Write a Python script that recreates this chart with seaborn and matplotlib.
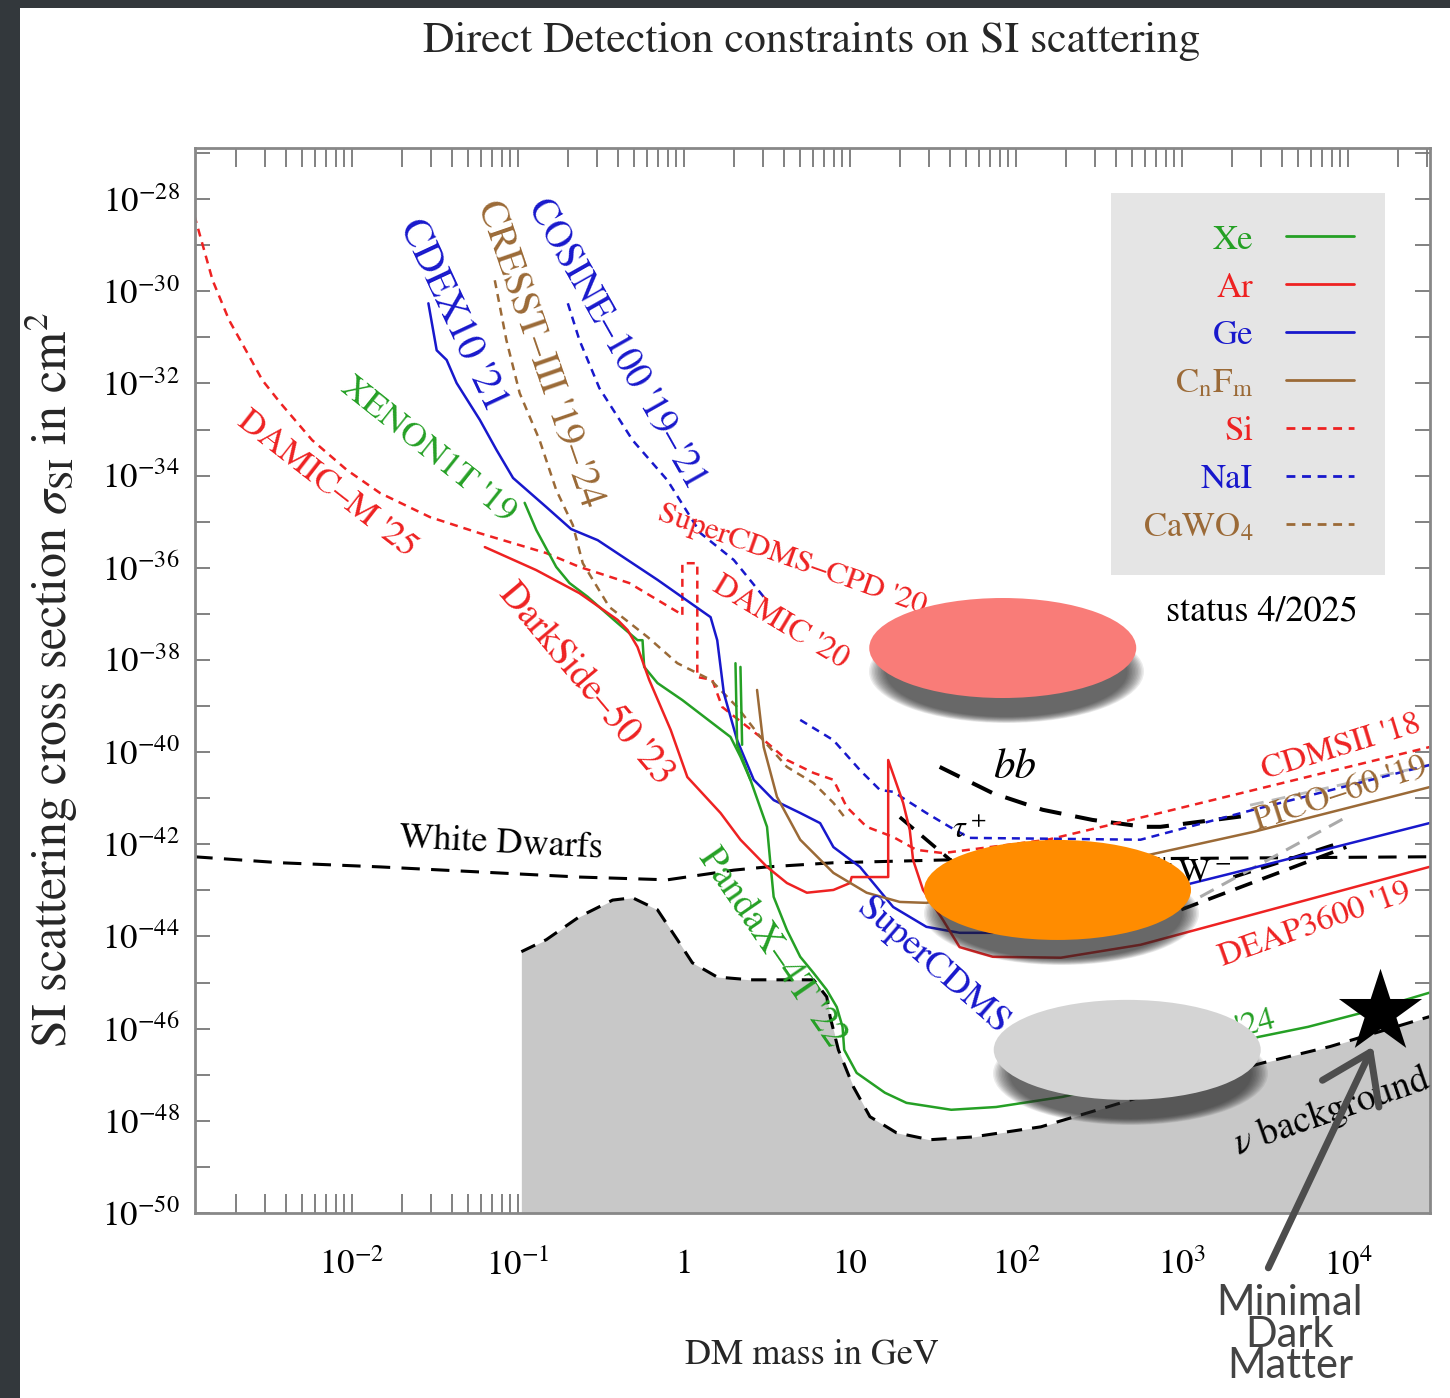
import numpy as np
import seaborn as sns
import matplotlib.pyplot as plt
from matplotlib.path import Path
from matplotlib.lines import Line2D
from matplotlib.patches import Rectangle
from matplotlib.transforms import Affine2D, ScaledTranslation
from matplotlib.ticker import FixedLocator, LogLocator, NullFormatter

# values: log10(m / GeV) and log10(sigma_SI / cm^2)
damicm_m = [-2.95, -2.84, -2.74, -2.63, -2.54, -2.43, -2.24, -2.03, -1.83, -1.53, -1.23, -0.83, -0.63, -0.33, -0.01]
damicm_s = [-28.35, -29.76, -30.63, -31.34, -31.93, -32.43, -33.23, -33.88, -34.38, -34.90, -35.25, -35.68, -35.98, -36.33, -37.02]

# SuperCDMS-CPD '20 box, DAMIC '20 and CDMSII '18 (Si)
si_m = [-0.01, -0.01, 0.08, 0.08, 0.17, 0.23, 0.46, 0.62, 0.78, 0.90, 0.98, 1.10, 1.26, 1.40, 1.56, 2.19, 2.81, 4.49]
si_s = [-37.02, -35.90, -35.90, -38.37, -38.43, -39.02, -39.67, -40.17, -40.45, -40.60, -41.19, -41.62, -41.84, -42.12, -42.19, -41.90, -41.37, -39.89]

# CDEX10 '21 + SuperCDMS (Ge)
ge_m = [-1.54, -1.49, -1.43, -1.37, -1.23, -1.13, -1.03, -0.83, -0.68, -0.52, -0.16, 0.16, 0.20, 0.24, 0.32, 0.42, 0.54,
        0.70, 0.82, 0.90, 1.06, 1.26, 1.46, 1.66, 1.86, 3.31, 4.49]
ge_s = [-30.26, -31.28, -31.49, -31.99, -32.79, -33.44, -34.05, -34.68, -35.16, -35.40, -36.26, -37.07, -37.57, -38.72, -39.74,
        -40.60, -41.04, -41.32, -41.54, -42.06, -42.49, -43.36, -43.79, -43.92, -43.92, -42.62, -41.54]

cresst_m = [-1.14, -1.07, -0.99, -0.87, -0.77, -0.67, -0.61, -0.45, -0.22, -0.04, 0.16, 0.32, 0.46, 0.62, 0.78, 0.90, 0.98]
cresst_s = [-29.76, -31.06, -32.21, -33.23, -34.31, -35.07, -35.90, -36.85, -37.50, -38.07, -38.43, -39.02, -39.67, -40.32, -40.67, -41.10, -41.47]

cosine_m = [-0.70, -0.63, -0.51, -0.31, -0.10, 0.10, 0.30, 0.48]
cosine_s = [-30.26, -31.06, -32.10, -33.23, -34.10, -35.25, -35.83, -36.63]

nai_m = [0.70, 0.90, 1.06, 1.18, 1.26, 1.46, 1.60, 1.72, 2.75, 3.43, 4.49]
nai_s = [-39.30, -39.74, -40.39, -40.82, -40.86, -41.32, -41.62, -41.86, -41.90, -41.25, -40.28]

xenon1t_m = [-0.96, -0.89, -0.77, -0.69, -0.58, -0.40, -0.28, -0.25, -0.24, -0.16, -0.01, 0.20, 0.28, 0.34, 0.40]
xenon1t_s = [-34.59, -35.18, -35.98, -36.33, -36.63, -37.20, -37.57, -37.57, -38.15, -38.50, -38.87, -39.45, -39.67, -40.10, -40.60]

# PandaX-4T '22 + LZ '24 (Xe)
xe_m = [0.31, 0.32, 0.40, 0.50, 0.52, 0.54, 0.62, 0.70, 0.78, 0.86, 0.92, 0.955, 0.965, 1.04, 1.21, 1.34, 1.61, 1.88,
        2.28, 2.55, 3.46, 3.76, 4.08, 4.49]
xe_s = [-38.07, -39.84, -40.60, -41.62, -42.40, -43.14, -43.86, -44.44, -44.79, -45.16, -45.53, -45.96, -46.46, -46.96,
        -47.39, -47.61, -47.76, -47.70, -47.48, -47.26, -46.18, -45.96, -45.66, -45.22]
xe_spike_m = [0.34, 0.35]
xe_spike_s = [-38.15, -39.84]

# DarkSide-50 '23 + DEAP3600 '19 (Ar)
ar_m = [-1.20, -0.89, -0.63, -0.40, -0.34, -0.28, -0.21, -0.08, 0.02, 0.22, 0.34, 0.50, 0.62, 0.74, 0.90, 1.00, 1.01,
        1.23, 1.23, 1.32, 1.36, 1.38, 1.44, 1.56, 1.66, 1.86, 2.27, 2.75, 4.49]
ar_s = [-35.55, -36.05, -36.55, -37.13, -37.35, -37.72, -38.43, -39.52, -40.54, -41.32, -41.90, -42.49, -42.84, -43.05,
        -42.99, -42.84, -42.71, -42.71, -40.17, -41.10, -41.69, -42.34, -42.99, -43.64, -44.23, -44.44, -44.46, -44.18, -42.49]

# PICO-60 '19 (CnFm)
pico_m = [0.44, 0.48, 0.56, 0.70, 0.90, 1.10, 1.30, 1.46, 2.85, 3.43, 4.49]
pico_s = [-38.65, -39.89, -40.97, -41.90, -42.62, -43.05, -43.25, -43.27, -42.19, -41.73, -40.76]

wd_m = [-2.95, -2.43, -1.83, -1.23, -0.63, -0.10, 0.30, 0.50, 0.90, 1.56, 4.49]
wd_s = [-42.27, -42.40, -42.49, -42.60, -42.71, -42.77, -42.56, -42.49, -42.40, -42.34, -42.27]

nu_m = [-0.98, -0.83, -0.63, -0.43, -0.31, -0.16, -0.04, 0.05, 0.20, 0.40, 0.62, 0.78, 0.86, 0.88, 0.93, 1.02, 1.12,
        1.28, 1.48, 1.74, 2.15, 2.55, 2.95, 3.49, 3.89, 4.49]
nu_s = [-44.33, -44.07, -43.57, -43.21, -43.16, -43.42, -44.07, -44.57, -44.88, -44.94, -44.94, -44.94, -45.31, -45.74,
        -46.46, -47.26, -47.91, -48.26, -48.41, -48.35, -48.13, -47.70, -47.26, -46.74, -46.39, -45.74]

bb_m = [1.54, 1.86, 2.16, 2.46, 2.77, 2.87, 3.43]
bb_s = [-40.32, -40.89, -41.25, -41.47, -41.62, -41.62, -41.36]
tau_m = [1.30, 1.66]
tau_s = [-41.41, -42.51]
ww1_m = [2.67, 3.99]
ww1_s = [-43.86, -42.06]
ww2_m = [3.31, 3.95]
ww2_s = [-42.71, -41.97]
zz1_m = [3.11, 3.99]
zz1_s = [-43.14, -41.41]
zz2_m = [3.41, 4.49]
zz2_s = [-41.15, -40.28]

blob_m = [1.92, 2.25, 2.67]
blob_s = [-37.74, -42.99, -46.46]
blob_colors = ['#f97c78', '#ff8c00', '#d4d4d4']
mdm_m, mdm_s = 4.19, -45.64

leg_labels = ['Xe', 'Ar', 'Ge', r'C$_{\rm n}$F$_{\rm m}$', 'Si', 'NaI', r'CaWO$_4$']
x_ticklabels = [r'$10^{-2}$', r'$10^{-1}$', '1', '10', r'$10^{2}$', r'$10^{3}$', r'$10^{4}$']

GREEN, RED, BLUE, BROWN = '#25a025', '#ee2222', '#1818cc', '#9b6a37'

sns.set_style('white')
plt.rcParams['font.family'] = ['STIXGeneral', 'DejaVu Sans']
plt.rcParams['mathtext.fontset'] = 'stix'

fig = plt.figure(figsize=(14.5, 13.98), dpi=100, facecolor='#33383c')
fig.add_artist(Rectangle((20 / 1450, 0), 1, 1 - 8 / 1398, transform=fig.transFigure,
                         facecolor='white', edgecolor='none', zorder=-5))
ax = fig.add_axes([195 / 1450, 185 / 1398, 1235 / 1450, 1065 / 1398])
ax.set_xscale('log')
ax.set_yscale('log')

DASH = (0, (3.2, 2.4))


def curve(lm, ls_, color, style='-', lw=1.8, z=2):
    sns.lineplot(x=10 ** np.array(lm), y=10 ** np.array(ls_), sort=False, estimator=None,
                 color=color, linestyle=style, linewidth=lw, ax=ax, zorder=z)


# neutrino floor
ax.fill_between(10 ** np.array(nu_m), 10 ** np.array(nu_s), 1e-55, color='#c8c8c8', lw=0, zorder=1)
curve(nu_m, nu_s, 'black', (0, (5, 3.3)), lw=2.2)
curve(wd_m, wd_s, 'black', (0, (6, 3.7)), lw=2.2)
curve(bb_m, bb_s, 'black', (0, (5.5, 3.5)), lw=2.9)
curve(tau_m, tau_s, 'black', (0, (5, 3)), lw=2.6)
curve(ww1_m, ww1_s, 'black', (0, (5, 3)), lw=2.6)
curve(ww2_m, ww2_s, 'black', (0, (5, 3)), lw=2.6)
curve(zz1_m, zz1_s, '#aaaaaa', (0, (5, 3)), lw=2.2)
curve(zz2_m, zz2_s, '#bbbbbb', (0, (5, 3)), lw=2.0)

curve(damicm_m, damicm_s, RED, DASH)
curve(si_m, si_s, RED, DASH)
curve(cresst_m, cresst_s, BROWN, DASH)
curve(cosine_m, cosine_s, BLUE, DASH)
curve(nai_m, nai_s, BLUE, DASH)
curve(ge_m, ge_s, BLUE)
curve(xenon1t_m, xenon1t_s, GREEN)
curve(xe_m, xe_s, GREEN)
curve(xe_spike_m, xe_spike_s, GREEN)
curve(ar_m, ar_s, RED)
curve(pico_m, pico_s, BROWN)

lab = dict(ha='center', va='center', rotation_mode='anchor', zorder=3)
ax.text(10 ** -1.40, 10 ** -30.52, "CDEX10 '21", color=BLUE, rotation=-65, fontsize=29, **lab)
ax.text(10 ** -0.87, 10 ** -31.36, "CRESST–III '19–'24", color=BROWN, rotation=-71, fontsize=28, **lab)
ax.text(10 ** -0.41, 10 ** -31.15, "COSINE–100 '19–'21", color=BLUE, rotation=-60.5, fontsize=27, **lab)
ax.text(10 ** -1.54, 10 ** -33.44, "XENON1T '19", color=GREEN, rotation=-38.5, fontsize=25.5, **lab)
ax.text(10 ** -2.15, 10 ** -34.20, "DAMIC–M '25", color=RED, rotation=-38, fontsize=25.5, **lab)
ax.text(10 ** 0.65, 10 ** -35.83, "SuperCDMS–CPD '20", color=RED, rotation=-19.5, fontsize=22.5, **lab)
ax.text(10 ** 0.58, 10 ** -37.20, "DAMIC '20", color=RED, rotation=-31, fontsize=23, **lab)
ax.text(10 ** -0.59, 10 ** -38.52, "DarkSide–50 '23", color=RED, rotation=-50, fontsize=27, **lab)
ax.text(10 ** 0.53, 10 ** -44.25, "PandaX–4T '22", color=GREEN, rotation=-55.5, fontsize=27, **lab)
ax.text(10 ** 1.50, 10 ** -44.64, "SuperCDMS", color=BLUE, rotation=-41, fontsize=26.5, **lab)
ax.text(10 ** -1.10, 10 ** -41.97, "White Dwarfs", color='black', rotation=-3, fontsize=26, **lab)
ax.text(10 ** 1.99, 10 ** -40.34, "bb", color='black', fontstyle='italic', fontsize=31, **lab)
ax.text(10 ** 1.72, 10 ** -41.69, r"$\tau^+$", color='black', fontsize=23, **lab)
ax.text(10 ** 3.30, 10 ** -42.66, r"W$^+$W$^-$", color='black', fontsize=25, ha='right', va='center', zorder=3)
ax.text(10 ** 3.96, 10 ** -39.91, "CDMSII '18", color=RED, rotation=17, fontsize=24, **lab)
ax.text(10 ** 3.96, 10 ** -40.93, "PICO–60 '19", color=BROWN, rotation=18, fontsize=25, **lab)
ax.text(10 ** 3.80, 10 ** -43.75, "DEAP3600 '19", color=RED, rotation=19.5, fontsize=24, **lab)
ax.text(10 ** 3.56, 10 ** -45.81, "LZ '24", color=GREEN, rotation=15, fontsize=24, ha='right', va='center',
        rotation_mode='anchor', zorder=3)
ax.text(10 ** 3.90, 10 ** -47.81, r"$\nu$ background", color='black', rotation=19, fontsize=27, **lab)
ax.text(10 ** 3.48, 10 ** -36.96, "status 4/2025", color='black', fontsize=26, **lab)

# ellipses with a soft drop shadow below them
ell = Path.unit_circle().transformed(Affine2D().scale(1.0, 100 / 267))
bm, bs = 10 ** np.array(blob_m), 10 ** np.array(blob_s)
shadow = ax.transData + ScaledTranslation(3 / 100, -23 / 100, fig.dpi_scale_trans)
for grow in range(8, -26, -3):
    ax.scatter(bm, bs, s=((267 + grow) * 0.72) ** 2, marker=ell, color='#262626', alpha=0.09,
               linewidths=0, zorder=4, transform=shadow)
ax.scatter(bm, bs, s=(267 * 0.72) ** 2, marker=ell, c=blob_colors, linewidths=0, zorder=5)
ax.scatter([10 ** mdm_m], [10 ** mdm_s], s=63 ** 2, marker='*', color='black', linewidths=0, zorder=6)

ax.annotate('', xy=(10 ** 4.15, 10 ** -46.39), xytext=(10 ** 3.52, 10 ** -51.19),
            arrowprops=dict(arrowstyle='->,head_length=1.1,head_width=0.75', lw=5, color='#4d4d4d',
                            mutation_scale=30, shrinkA=0, shrinkB=0),
            annotation_clip=False, zorder=7)
ax.text(10 ** 3.65, 10 ** -52.64, 'Minimal\nDark\nMatter', ha='center', va='center', fontsize=30,
        linespacing=0.8, color='#444444', family=['Lato', 'DejaVu Sans'])

# legend
leg_colors = [GREEN, RED, BLUE, BROWN, RED, BLUE, BROWN]
leg_styles = ['-', '-', '-', '-', DASH, DASH, DASH]
handles = [Line2D([], [], color=c, lw=2.0, ls=s) for c, s in zip(leg_colors, leg_styles)]
ax.legend(handles, leg_labels, loc='upper right', bbox_to_anchor=(0.9636, 0.9577), borderaxespad=0,
          markerfirst=False, labelcolor=leg_colors, fontsize=25, frameon=True, fancybox=False,
          facecolor='#e5e5e5', edgecolor='none', framealpha=1, handlelength=1.95,
          handletextpad=0.95, borderpad=0.9, labelspacing=0.45)

# axes
ax.set_xlim(10 ** -2.946, 10 ** 4.494)
ax.set_ylim(1e-50, 10 ** -26.89)
ax.set_xticks(10.0 ** np.arange(-2, 5), labels=x_ticklabels)
ax.xaxis.set_minor_locator(LogLocator(base=10, subs=np.arange(2, 10), numticks=100))
ax.xaxis.set_minor_formatter(NullFormatter())
ax.set_yticks(10.0 ** np.arange(-50, -27, 2), labels=[r'$10^{%d}$' % e for e in range(-50, -27, 2)])
ax.yaxis.set_minor_locator(FixedLocator(10.0 ** np.arange(-49, -26, 2)))
ax.yaxis.set_minor_formatter(NullFormatter())
ax.tick_params(which='both', direction='in', bottom=True, left=True, top=True, right=True,
               color='#777777', width=1.3, labelsize=25, labelcolor='black')
ax.tick_params(axis='x', which='both', length=14, pad=26)
ax.tick_params(axis='y', which='both', length=11, pad=11)
for sp in ax.spines.values():
    sp.set_color('#888888')
    sp.set_linewidth(2)

ax.set_xlabel('DM mass in GeV', fontsize=26)
ax.xaxis.set_label_coords(0.4996, -0.118)
ax.set_ylabel(r'SI scattering cross section $\sigma_{\rm SI}$ in cm$^2$', fontsize=36)
ax.yaxis.set_label_coords(-0.093, 0.5)
fig.text(0.56, 0.970, 'Direct Detection constraints on SI scattering', ha='center', va='center', fontsize=31.5)

fig.savefig('out.png', dpi=100, facecolor=fig.get_facecolor())
